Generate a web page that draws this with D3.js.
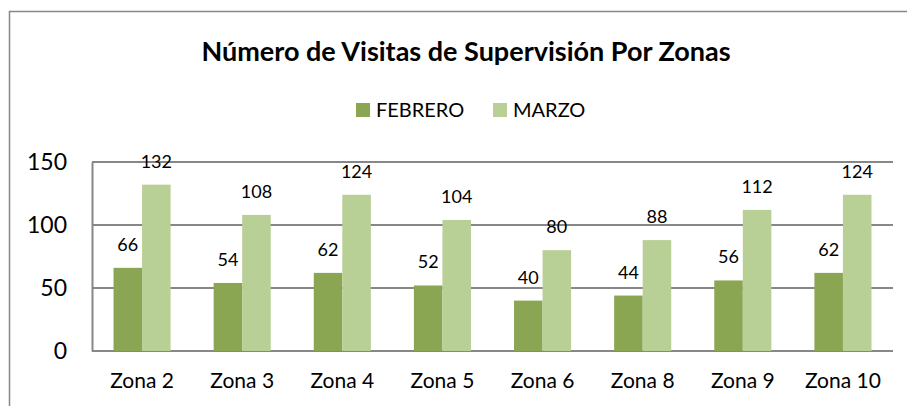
<!DOCTYPE html>
<html>
<head>
<meta charset="utf-8">
<script src="https://cdn.jsdelivr.net/npm/d3@7"></script>
<style>
  body { margin: 0; background: #fff; }
  svg { display: block; font-family: Lato, "Open Sans", sans-serif; }
</style>
</head>
<body>
<div id="chart"></div>
<script>
// chart values
const zonas = ['Zona 2', 'Zona 3', 'Zona 4', 'Zona 5', 'Zona 6', 'Zona 8', 'Zona 9', 'Zona 10'];
const febrero = [66, 54, 62, 52, 40, 44, 56, 62];
const marzo = [132, 108, 124, 104, 80, 88, 112, 124];
const seriesNames = ['FEBRERO', 'MARZO'];
const yTicks = [0, 50, 100, 150];

const width = 907, height = 406;
const margin = { top: 162, right: 14, bottom: 55, left: 92 };
const colors = ['#8aa652', '#b8cf96'];

const svg = d3.select('#chart')
    .append('svg')
    .attr('width', width)
    .attr('height', height);

// outer chart border (right/bottom run off the picture)
svg.append('rect')
    .attr('x', 9.5).attr('y', 11.5)
    .attr('width', 920).attr('height', 420)
    .attr('fill', 'none')
    .attr('stroke', '#878787')
    .attr('stroke-width', 1.5);

svg.append('text')
    .attr('x', 466).attr('y', 61)
    .attr('text-anchor', 'middle')
    .attr('font-weight', 'bold')
    .attr('font-size', 27)
    .attr('fill', '#000')
    .text('Número de Visitas de Supervisión Por Zonas');

// legend
const legend = svg.append('g');
const legendX = [356, 493];
seriesNames.forEach((name, i) => {
    legend.append('rect')
        .attr('x', legendX[i]).attr('y', 103)
        .attr('width', 14).attr('height', 14)
        .attr('fill', colors[i]);
    legend.append('text')
        .attr('x', legendX[i] + 20).attr('y', 117)
        .attr('font-size', 20)
        .text(name);
});

const x0 = d3.scaleBand()
    .domain(zonas)
    .range([margin.left, width - margin.right])
    .paddingInner(0.43)
    .paddingOuter(0.215);

const x1 = d3.scaleBand()
    .domain([0, 1])
    .range([0, x0.bandwidth()]);

const y = d3.scaleLinear()
    .domain([0, 150])
    .range([height - margin.bottom, margin.top]);

// grid lines
svg.append('g')
    .selectAll('line')
    .data(yTicks)
    .join('line')
    .attr('x1', margin.left).attr('x2', width - margin.right)
    .attr('y1', d => y(d)).attr('y2', d => y(d))
    .attr('stroke', '#878787')
    .attr('stroke-width', 2);

// left axis
const yAxis = svg.append('g')
    .attr('transform', `translate(${margin.left},0)`)
    .call(d3.axisLeft(y).tickValues(yTicks).tickSize(0).tickPadding(25));
yAxis.select('.domain').attr('stroke', '#878787').attr('stroke-width', 2);
yAxis.selectAll('text').attr('font-size', 23).attr('fill', '#000').attr('font-family', 'Lato');

const series = [febrero, marzo];
const groups = svg.append('g')
    .selectAll('g')
    .data(zonas)
    .join('g')
    .attr('transform', d => `translate(${x0(d)},0)`);

groups.selectAll('rect')
    .data((d, i) => series.map((s, k) => ({ k, v: s[i] })))
    .join('rect')
    .attr('x', d => x1(d.k))
    .attr('width', x1.bandwidth())
    .attr('y', d => y(d.v))
    .attr('height', d => y(0) - y(d.v))
    .attr('fill', d => colors[d.k]);

groups.selectAll('text.lbl')
    .data((d, i) => series.map((s, k) => ({ k, v: s[i] })))
    .join('text')
    .attr('class', 'lbl')
    .attr('x', d => x1(d.k) + x1.bandwidth() / 2)
    .attr('y', d => y(d.v) - 17)
    .attr('text-anchor', 'middle')
    .attr('font-size', 18)
    .text(d => d.v);

// category labels
const xAxis = svg.append('g')
    .attr('transform', `translate(0,${y(0)})`)
    .call(d3.axisBottom(x0).tickSize(0).tickPadding(22));
xAxis.select('.domain').remove();
xAxis.selectAll('text').attr('font-size', 21).attr('fill', '#000').attr('font-family', 'Lato');
</script>
</body>
</html>
